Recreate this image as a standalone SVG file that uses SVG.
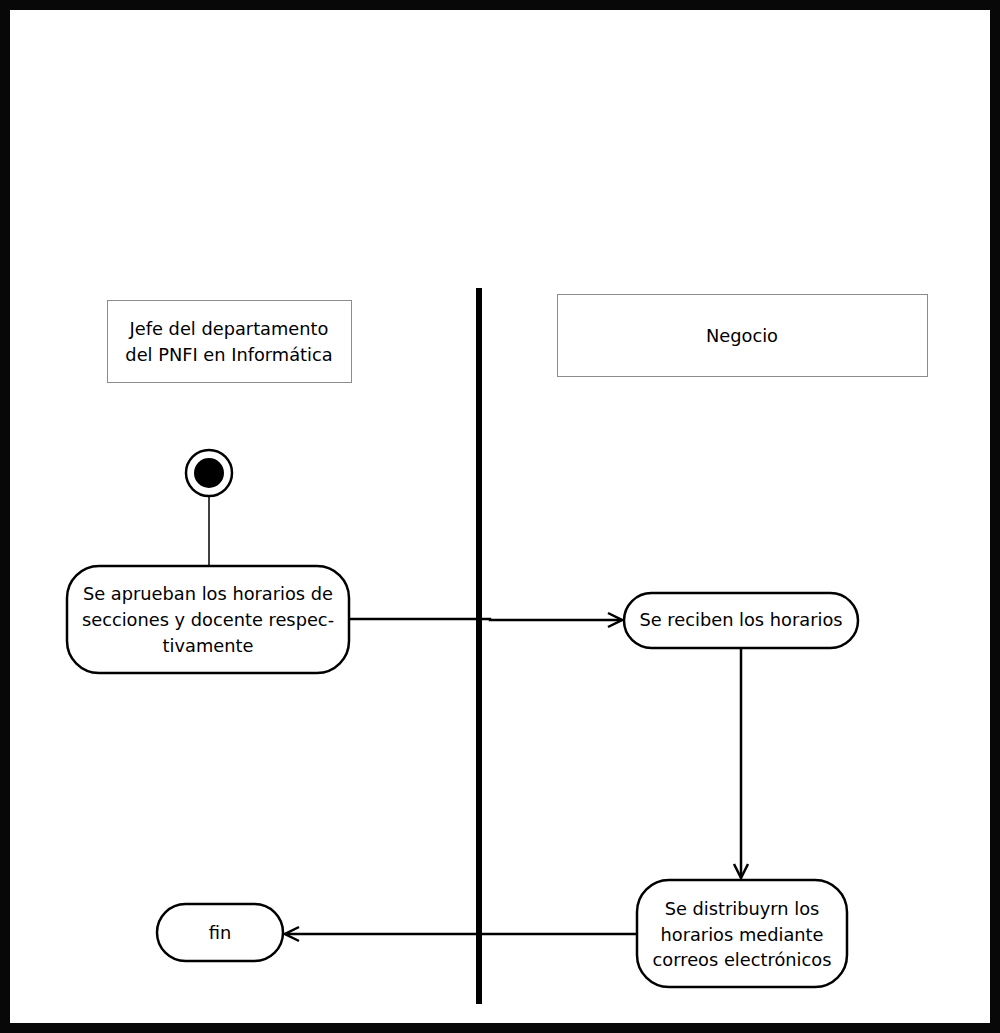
<svg xmlns="http://www.w3.org/2000/svg" width="1000" height="1033" viewBox="0 0 1000 1033">
  <style>
    .lane { fill: #ffffff; stroke: #8c8c8c; stroke-width: 1; }
    .act { fill: #ffffff; stroke: #000000; stroke-width: 2.5; }
    .lbl { font-family: "DejaVu Sans", Tahoma, sans-serif; font-size: 17.8px; fill: #000000; text-anchor: middle; }
    .edge { fill: none; stroke: #000000; stroke-width: 2.5; }
  </style>
  <defs>
    <marker id="open" viewBox="0 0 20 20" refX="18" refY="10" markerWidth="20" markerHeight="20" markerUnits="userSpaceOnUse" orient="auto">
      <path d="M4,3 L18,10 L4,17" fill="none" stroke="#000000" stroke-width="2.5"/>
    </marker>
  </defs>

  <!-- frame -->
  <rect x="0" y="0" width="1000" height="1033" fill="#080808"/>
  <rect x="10" y="10" width="980" height="1013" fill="#ffffff"/>

  <!-- swimlane separator -->
  <rect x="476" y="288" width="6" height="716" fill="#000000"/>

  <!-- lane headers -->
  <g id="lane-jefe">
    <rect class="lane" x="107.5" y="300.5" width="244" height="82"/>
    <text class="lbl" x="229" y="335">Jefe del departamento</text>
    <text class="lbl" x="229" y="361">del PNFI en Informática</text>
  </g>
  <g id="lane-negocio">
    <rect class="lane" x="557.5" y="294.5" width="370" height="82"/>
    <text class="lbl" x="742" y="342">Negocio</text>
  </g>

  <!-- connectors -->
  <g id="connectors">
    <line class="edge" x1="209" y1="497" x2="209" y2="566" style="stroke-width:1.5"/>
    <path class="edge" d="M349,619 L490,619 L490,620 L622,620" marker-end="url(#open)"/>
    <path class="edge" d="M741,648 L741,878" marker-end="url(#open)"/>
    <path class="edge" d="M637,934 L285,934" marker-end="url(#open)"/>
  </g>

  <!-- start node -->
  <g id="start">
    <circle cx="209" cy="473" r="23" fill="#ffffff" stroke="#000000" stroke-width="2.5"/>
    <circle cx="209" cy="473" r="15" fill="#000000"/>
  </g>

  <g id="aprueban">
    <rect class="act" x="67" y="566" width="282" height="107" rx="32"/>
    <text class="lbl" x="208" y="600">Se aprueban los horarios de</text>
    <text class="lbl" x="208" y="626">secciones y docente respec-</text>
    <text class="lbl" x="208" y="652">tivamente</text>
  </g>

  <g id="reciben">
    <rect class="act" x="624" y="593" width="234" height="55" rx="27.5"/>
    <text class="lbl" x="741" y="626">Se reciben los horarios</text>
  </g>

  <g id="distribuyen">
    <rect class="act" x="637" y="880" width="210" height="107" rx="32"/>
    <text class="lbl" x="742" y="915">Se distribuyrn los</text>
    <text class="lbl" x="742" y="941">horarios mediante</text>
    <text class="lbl" x="742" y="966">correos electrónicos</text>
  </g>

  <g id="fin">
    <rect class="act" x="157" y="904" width="126" height="57" rx="28.5"/>
    <text class="lbl" x="220" y="939">fin</text>
  </g>
</svg>
